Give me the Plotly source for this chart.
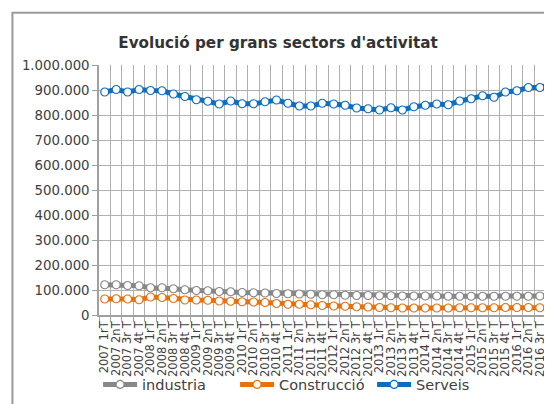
import plotly.graph_objects as go

years = [2007, 2008, 2009, 2010, 2011, 2012, 2013, 2014, 2015, 2016]
quarters = ["1rT", "2nT", "3r T", "4t T"]
categories = [f"{y} {q}" for y in years for q in quarters]

industria = [121000, 121000, 118000, 117000, 109000, 109000, 105000, 101000, 98000, 97000,
             94000, 93000, 90000, 89000, 88000, 86000, 85000, 84000, 83000, 81000,
             81000, 79000, 78000, 78000, 77000, 77000, 76000, 76000, 76000, 76000,
             75000, 75000, 75000, 75000, 75000, 75000, 75000, 75000, 76000, 76000]

construccio = [64000, 65000, 64000, 61000, 72000, 70000, 66000, 60000, 60000, 59000,
               56000, 55000, 53000, 52000, 50000, 46000, 43000, 43000, 41000, 38000,
               36000, 35000, 33000, 32000, 30000, 29000, 28000, 28000, 28000, 28000,
               28000, 29000, 29000, 29000, 29000, 30000, 30000, 30000, 29000, 29000]

serveis = [892000, 902000, 892000, 902000, 898000, 897000, 884000, 874000, 861000, 855000,
           844000, 856000, 845000, 845000, 853000, 860000, 847000, 836000, 836000, 847000,
           844000, 839000, 828000, 825000, 820000, 829000, 820000, 833000, 839000, 844000,
           841000, 856000, 865000, 877000, 871000, 892000, 897000, 910000, 910000, 923000]

series = [("industria", industria, "#878787"),
          ("Construcció", construccio, "#e8710c"),
          ("Serveis", serveis, "#0b6fc0")]

fig = go.Figure()
for name, vals, col in series:
    fig.add_trace(go.Scatter(
        x=categories, y=vals, name=name, mode="lines+markers",
        line=dict(color=col, width=5),
        marker=dict(symbol="circle", size=8, color="white", line=dict(color=col, width=1.2)),
    ))

# excel chart border (right/bottom edges fall outside the window)
fig.add_shape(type="rect", xref="paper", yref="paper",
              x0=-0.189, x1=1.1, y0=-0.5, y1=1.209,
              line=dict(color="#9a9a9a", width=2), layer="above")

fig.update_layout(
    width=560, height=404,
    margin=dict(l=91, r=11, t=57, b=95),
    paper_bgcolor="white", plot_bgcolor="white",
    separators=",.",
    title=dict(text="<b>Evolució per grans sectors d'activitat</b>",
               xref="container", x=270 / 560, xanchor="center",
               yref="container", y=1 - 35 / 404, yanchor="middle",
               font=dict(family="DejaVu Sans", size=15.2, color="#333333")),
    font=dict(family="DejaVu Sans", color="#404040"),
    showlegend=True,
    legend=dict(orientation="h", x=-0.002, xanchor="left", y=-0.278, yanchor="middle",
                itemwidth=34, entrywidth=88,
                font=dict(family="DejaVu Sans", size=14.5, color="#404040"),
                bgcolor="rgba(0,0,0,0)"),
)

fig.update_xaxes(
    type="category", range=[-0.5, 39.5], tickson="boundaries",
    tickmode="linear", tick0=0, dtick=1,
    showgrid=True, gridcolor="#b0b0b0", gridwidth=1,
    showline=True, linecolor="#a0a0a0", linewidth=1.5,
    ticks="outside", ticklen=5, tickcolor="#a0a0a0",
    tickangle=-90, tickfont=dict(family="DejaVu Sans", size=11.5, color="#404040"),
)
fig.update_yaxes(
    range=[0, 1000000], dtick=100000, tickformat=",d",
    showgrid=True, gridcolor="#b0b0b0", gridwidth=1,
    showline=True, linecolor="#a0a0a0", linewidth=1.5,
    ticks="outside", ticklen=5, tickcolor="#a0a0a0",
    tickfont=dict(family="DejaVu Sans", size=13.3, color="#404040"),
    zeroline=False,
)

fig.write_html("out.html")
